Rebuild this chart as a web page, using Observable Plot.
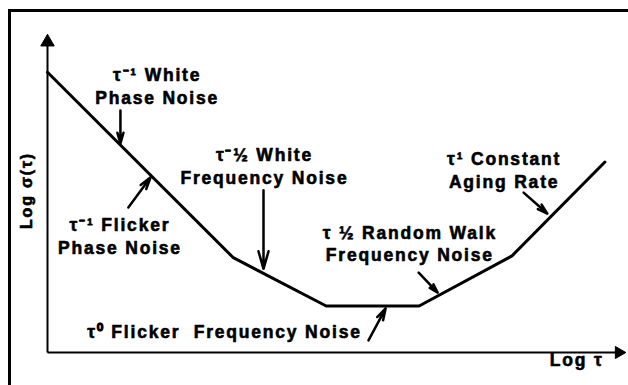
<!DOCTYPE html>
<html>
<head>
<meta charset="utf-8">
<script src="https://cdn.jsdelivr.net/npm/d3@7"></script>
<script src="https://cdn.jsdelivr.net/npm/@observablehq/plot@0.6"></script>
<style>
  html, body { margin: 0; padding: 0; background: #fff; overflow: hidden; }
  #wrap { position: relative; width: 628px; height: 385px; overflow: hidden; }
  #frame { position: absolute; left: 8px; top: 9px; width: 640px; height: 400px;
           border-top: 3px solid #000; border-left: 3px solid #000; pointer-events: none; z-index: 2; }
  #chart { position: absolute; left: 0; top: 0; }
  #chart g[aria-label="text"] text { letter-spacing: 1.8px; }
</style>
</head>
<body>
<div id="wrap"><div id="chart"></div><div id="frame"></div></div>
<script>
// Piecewise sigma-tau curve (log units)
const logTau   = [0, 4, 6, 8, 10, 12];
const logSigma = [5.03, 1.04, 0, 0, 1.08, 3.1];

// Noise-type labels (text, position in log units)
const labelText = [
  "τ⁻¹ White\nPhase Noise",
  "τ⁻½ White\nFrequency Noise",
  "τ⁻¹ Flicker\nPhase Noise",
  "τ⁰ Flicker  Frequency Noise",
  "τ ½ Random Walk\nFrequency Noise",
  "τ¹ Constant\nAging Rate"
];
const labelX = [2.36, 4.67, 1.56, 3.81, 7.8, 9.83];
const labelY = [4.75, 3.03, 1.53, -0.53, 1.36, 2.94];

// Pointer arrows (tail -> tip, log units)
const arrowX1 = [1.57, 4.65, 1.74, 6.91, 7.99, 10.25];
const arrowY1 = [4.21, 2.49, 2.12, -0.74, 0.72, 2.44];
const arrowX2 = [1.57, 4.65, 2.22, 7.28, 8.40, 10.76];
const arrowY2 = [3.50, 0.80, 2.77, -0.05, 0.29, 1.99];

// Axis extents
const xMin = 0, xMax = 12.4, yMin = -1, yMax = 5.8;

const curve = logTau.map((t, i) => ({t, s: logSigma[i]}));
const labels = labelText.map((text, i) => ({text, x: labelX[i], y: labelY[i]}));
const arrows = arrowX1.map((x1, i) => ({x1, y1: arrowY1[i], x2: arrowX2[i], y2: arrowY2[i]}));

const font = {fontFamily: "Liberation Sans, Arial, sans-serif", fontWeight: "bold", fontSize: 17.5,
              stroke: "#000", strokeWidth: 0.6, fill: "#000"};

const plot = Plot.plot({
  width: 628,
  height: 385,
  marginLeft: 47,
  marginRight: 5,
  marginTop: 36,
  marginBottom: 33,
  style: {background: "transparent"},
  x: {domain: [xMin, xMax], axis: null},
  y: {domain: [yMin, yMax], axis: null},
  marks: [
    // axes
    Plot.link([{x1: xMin, y1: yMin, x2: xMin, y2: yMax - 0.1}], {x1: "x1", y1: "y1", x2: "x2", y2: "y2", stroke: "#000", strokeWidth: 2}),
    Plot.link([{x1: xMin, y1: yMin, x2: xMax - 0.05, y2: yMin}], {x1: "x1", y1: "y1", x2: "x2", y2: "y2", stroke: "#000", strokeWidth: 2}),
    Plot.dot([{x: xMin, y: yMax - 0.12}], {x: "x", y: "y", symbol: "triangle", r: 5, fill: "#000", stroke: "#000", strokeWidth: 1}),
    Plot.dot([{x: xMax - 0.1, y: yMin}], {x: "x", y: "y", symbol: "triangle", rotate: 90, r: 4.5, fill: "#000", stroke: "#000", strokeWidth: 1}),
    // curve
    Plot.line(curve, {x: "t", y: "s", stroke: "#000", strokeWidth: 3, strokeLinejoin: "miter"}),
    // pointer arrows
    Plot.arrow(arrows, {x1: "x1", y1: "y1", x2: "x2", y2: "y2", stroke: "#000", strokeWidth: 2.5, headLength: 11, headAngle: 32}),
    // labels
    Plot.text(labels, {x: "x", y: "y", text: "text", lineHeight: 1.3, ...font}),
    // axis titles
    Plot.text(["Log σ(τ)"], {frameAnchor: "left", textAnchor: "middle", rotate: -90, dx: -21, dy: -4, ...font, fontSize: 16}),
    Plot.text(["Log τ"], {frameAnchor: "bottom-right", textAnchor: "end", dx: -20, dy: 13, ...font})
  ]
});
document.getElementById("chart").appendChild(plot);
</script>
</body>
</html>
